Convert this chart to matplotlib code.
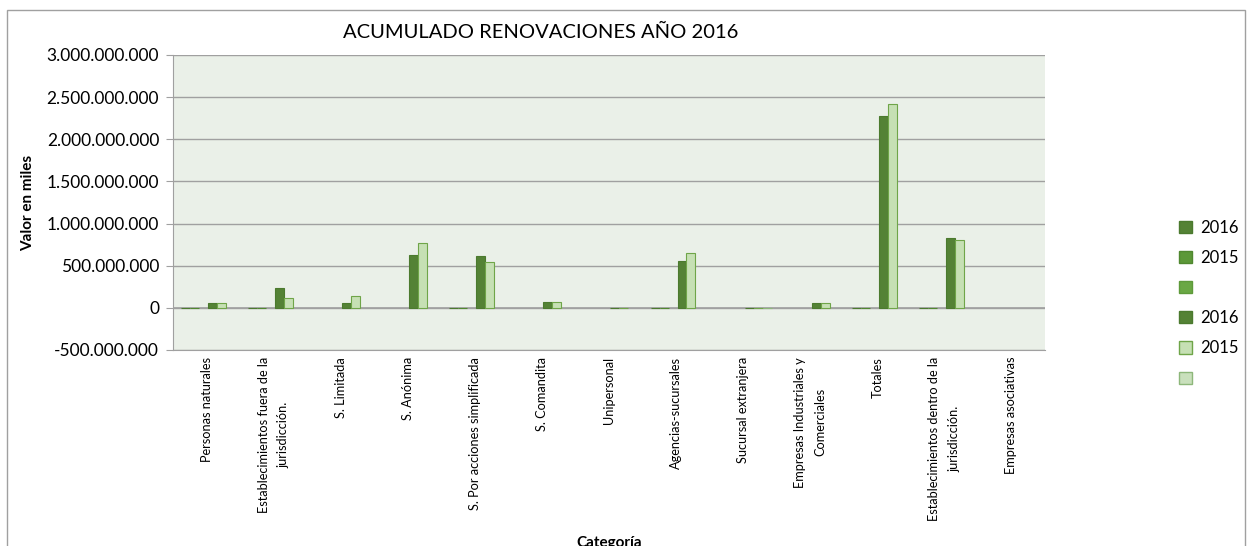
import matplotlib
matplotlib.use('Agg')
import matplotlib.pyplot as plt
from matplotlib.patches import Patch, Rectangle
from matplotlib.ticker import FuncFormatter, MultipleLocator
import numpy as np

plt.rcParams['font.family'] = ['Lato', 'DejaVu Sans']

categorias = ['Personas naturales',
              'Establecimientos fuera de la\njurisdicción.',
              'S. Limitada',
              'S. Anónima',
              'S. Por acciones simplificada',
              'S. Comandita',
              'Unipersonal',
              'Agencias-sucursales',
              'Sucursal extranjera',
              'Empresas Industriales y\nComerciales',
              'Totales',
              'Establecimientos dentro de la\njurisdicción.',
              'Empresas asociativas']

nan = np.nan
# valores en miles
s1_2016 = [4e6, 4e6, nan, nan, 4e6, nan, nan, 4e6, nan, nan, 4e6, 4e6, nan]
s2_2015 = [4e6, 4e6, nan, nan, 4e6, nan, nan, 4e6, nan, nan, 4e6, 4e6, nan]
s3_vacia = [nan] * 13
s4_2016 = [56e6, 233e6, 56e6, 632e6, 613e6, 75e6, 4e6, 554e6, 4e6, 60e6, 2278e6, 834e6, nan]
s5_2015 = [55e6, 122e6, 146e6, 770e6, 542e6, 75e6, 4e6, 649e6, 4e6, 60e6, 2420e6, 810e6, nan]
s6_vacia = [nan, nan, nan, nan, nan, nan, nan, nan, 4e6, nan, nan, nan, nan]

series = [s1_2016, s2_2015, s3_vacia, s4_2016, s5_2015, s6_vacia]
nombres = ['2016', '2015', '', '2016', '2015', '']
colores = ['#548235', '#5C9838', '#6AA844', '#548235', '#C6E0B4', '#C9E0BC']
bordes = ['#4B7A2E', '#50882F', '#5E9A3A', '#4B7A2E', '#6FA548', '#8DB77A']

fig = plt.figure(figsize=(12.49, 5.46), dpi=100)
ax = fig.add_axes([0.1385, 0.359, 0.6982, 0.5403])
ax.set_facecolor('#EAF0E8')

x = np.arange(len(categorias))
w = 0.134
for i, vals in enumerate(series):
    ax.bar(x - 0.314 + i * w, vals, w, color=colores[i], edgecolor=bordes[i],
           linewidth=0.8, zorder=3)

ax.set_xlim(-0.5, len(categorias) - 0.5)
ax.set_ylim(-500e6, 3000e6)
ax.yaxis.set_major_locator(MultipleLocator(500e6))
ax.yaxis.set_major_formatter(FuncFormatter(lambda v, p: '{:,.0f}'.format(v).replace(',', '.')))
ax.grid(axis='y', color='#A0A0A0', linewidth=1, zorder=1)
ax.axhline(0, color='#A0A0A0', linewidth=1.2, zorder=2)
for s in ['top', 'right']:
    ax.spines[s].set_visible(False)
ax.spines['left'].set_color('#A0A0A0')
ax.spines['bottom'].set_color('#A0A0A0')
ax.tick_params(axis='y', length=5, color='#A0A0A0', labelsize=12.5, pad=5)
ax.tick_params(axis='x', length=0, pad=5)
ax.set_xticks(x)
ax.set_xticklabels(categorias, rotation=90, fontsize=9.2, va='top', ha='center',
                   multialignment='center', linespacing=1.8)

ax.set_ylabel('Valor en miles', fontsize=11, fontweight='bold')
ax.yaxis.set_label_coords(-0.158, 0.5)
fig.text(0.488, 0.005, 'Categoría', fontsize=11, fontweight='bold', ha='center', va='center')
fig.text(0.433, 0.94, 'ACUMULADO RENOVACIONES AÑO 2016', fontsize=14.5, ha='center', va='center')

handles = [Patch(facecolor=colores[i], edgecolor=bordes[i]) for i in range(6)]
fig.legend(handles, nombres, loc='upper left', bbox_to_anchor=(0.939, 0.61),
           frameon=False, fontsize=12, handlelength=0.75, handleheight=0.75,
           handletextpad=0.5, labelspacing=0.85, borderaxespad=0)

fig.patches.append(Rectangle((0.0056, -0.01), 0.9912, 0.992, transform=fig.transFigure,
                             fill=False, edgecolor='#A0A0A0', linewidth=1))

fig.savefig('out.png', dpi=100)
